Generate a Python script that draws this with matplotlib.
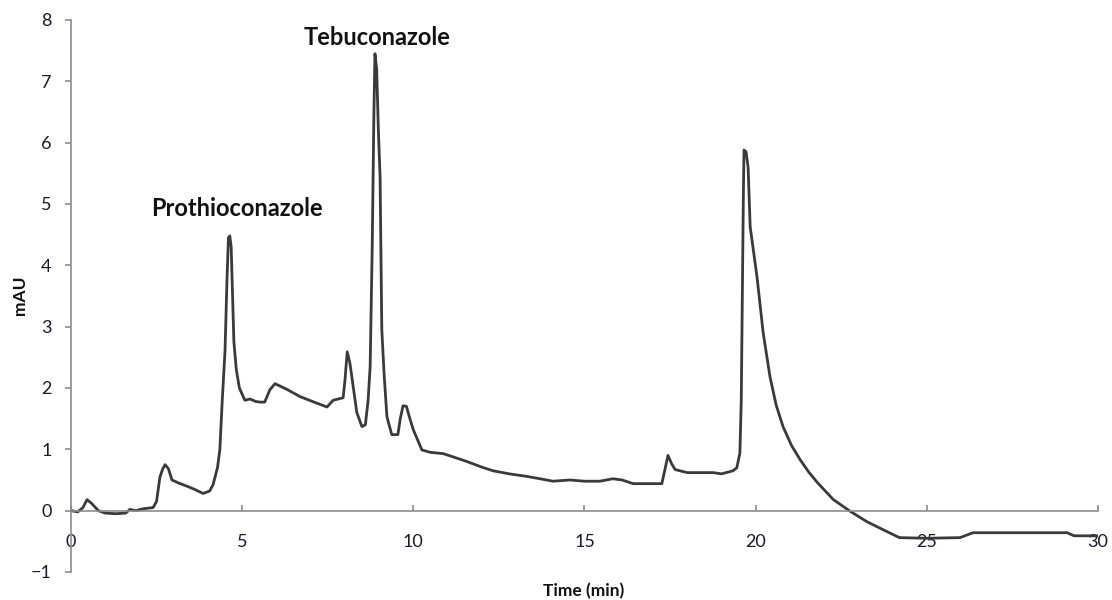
import matplotlib
matplotlib.use("Agg")
import matplotlib.pyplot as plt

# -----------------------------
# CHROMATOGRAM DATA (time in min, absorbance in mAU)
# -----------------------------
time_min = [
    0.0, 0.2, 0.35, 0.47, 0.6, 0.8, 1.0, 1.3, 1.6, 1.72, 1.9, 2.1, 2.4,
    2.5, 2.6, 2.68, 2.75, 2.85, 2.95, 3.15, 3.38, 3.6, 3.86, 4.05, 4.15,
    4.28, 4.35, 4.42, 4.5, 4.56, 4.6, 4.64, 4.68, 4.72, 4.76, 4.83, 4.92,
    5.08, 5.23, 5.4, 5.52, 5.66, 5.81, 5.96, 6.3, 6.69, 7.1, 7.48, 7.66,
    7.95, 8.0, 8.07, 8.15, 8.25, 8.35, 8.5, 8.6, 8.68, 8.74, 8.8, 8.85,
    8.88, 8.93, 8.98, 9.03, 9.08, 9.15, 9.23, 9.37, 9.55, 9.62, 9.7, 9.8,
    9.9, 10.0, 10.25, 10.5, 10.87, 11.2, 11.57, 12.0, 12.33, 12.8, 13.3,
    13.7, 14.08, 14.58, 15.0, 15.45, 15.83, 16.1, 16.42, 16.9, 17.26,
    17.35, 17.44, 17.55, 17.65, 18.0, 18.4, 18.76, 19.0, 19.34, 19.45,
    19.54, 19.58, 19.61, 19.64, 19.66, 19.72, 19.78, 19.84, 20.04, 20.22,
    20.42, 20.6, 20.8, 21.05, 21.3, 21.55, 21.8, 22.27, 22.76, 23.25,
    23.72, 24.2, 25.0, 25.97, 26.35, 27.5, 28.9, 29.1, 29.3, 30.0,
]
mau = [
    0.0, -0.02, 0.05, 0.18, 0.12, 0.0, -0.04, -0.05, -0.04, 0.02, 0.0,
    0.03, 0.05, 0.15, 0.55, 0.68, 0.75, 0.68, 0.5, 0.45, 0.4, 0.35, 0.28,
    0.32, 0.42, 0.7, 1.0, 1.8, 2.6, 3.8, 4.45, 4.48, 4.3, 3.5, 2.75, 2.3,
    2.0, 1.8, 1.82, 1.78, 1.77, 1.77, 1.97, 2.07, 1.98, 1.86, 1.77, 1.69,
    1.8, 1.84, 2.1, 2.59, 2.4, 2.0, 1.6, 1.37, 1.4, 1.8, 2.35, 4.3, 6.5,
    7.45, 7.2, 6.2, 5.44, 2.95, 2.2, 1.53, 1.24, 1.24, 1.5, 1.71, 1.7,
    1.5, 1.32, 0.99, 0.95, 0.93, 0.87, 0.8, 0.71, 0.65, 0.6, 0.56, 0.52,
    0.48, 0.5, 0.48, 0.48, 0.52, 0.5, 0.44, 0.44, 0.44, 0.67, 0.9, 0.76,
    0.67, 0.62, 0.62, 0.62, 0.6, 0.65, 0.7, 0.94, 1.8, 3.44, 5.07, 5.88,
    5.85, 5.6, 4.63, 3.81, 2.9, 2.18, 1.72, 1.37, 1.06, 0.83, 0.63, 0.46,
    0.18, -0.01, -0.18, -0.31, -0.44, -0.45, -0.44, -0.36, -0.36, -0.36,
    -0.36, -0.41, -0.41,
]

x_ticks = [0, 5, 10, 15, 20, 25, 30]
y_ticks = [-1, 0, 1, 2, 3, 4, 5, 6, 7, 8]

# peak name, label position (time, mAU)
peak_names = ["Prothioconazole", "Tebuconazole"]
peak_label_x = [4.85, 8.94]
peak_label_y = [4.93, 7.72]

# -----------------------------
# PLOT
# -----------------------------
plt.rcParams['font.family'] = ['Lato', 'DejaVu Sans']

fig = plt.figure(figsize=(11.12, 6.0), dpi=100)
ax = fig.add_axes([0.0638, 0.0467, 0.9236, 0.92])

axis_grey = "#8c8c8c"
ax.plot(time_min, mau, color="#3a3a3a", linewidth=2.0,
        solid_joinstyle="round", solid_capstyle="round")

ax.set_xlim(0, 30)
ax.set_ylim(-1, 8)

ax.spines['top'].set_visible(False)
ax.spines['right'].set_visible(False)
ax.spines['bottom'].set_position(('data', 0))
ax.spines['bottom'].set_color(axis_grey)
ax.spines['left'].set_color(axis_grey)
ax.spines['bottom'].set_linewidth(1.2)
ax.spines['left'].set_linewidth(1.2)

ax.set_xticks(x_ticks)
ax.set_yticks(y_ticks)
ax.tick_params(axis='x', direction='in', length=4, width=1.2, color=axis_grey,
               pad=17, labelsize=13, labelcolor="#1a1a2a")
ax.tick_params(axis='y', direction='out', length=4, width=1.2, color=axis_grey,
               pad=10, labelsize=13, labelcolor="#1a1a2a")

for name, lx, ly in zip(peak_names, peak_label_x, peak_label_y):
    ax.text(lx, ly, name, ha='center', va='center', fontsize=17,
            fontweight='bold', color="#111111")

fig.text(0.525, 0.015, "Time (min)", ha='center', va='center',
         fontsize=12.5, fontweight='bold', color="#111111")
fig.text(0.018, 0.508, "mAU", ha='center', va='center', rotation=90,
         fontsize=12.5, fontweight='bold', color="#111111")

fig.savefig("out.png", dpi=100)
plt.close(fig)
